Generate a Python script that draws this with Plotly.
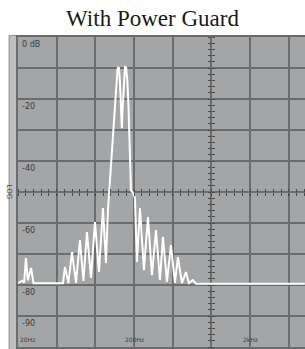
import numpy as np
import plotly.graph_objects as go

# Spectrum trace (frequency in Hz, level in dB)
freq_hz = [20, 21.7, 22.6, 23.4, 24.3, 25.9, 27.2, 48.8, 50.8, 54.4, 58.4, 63.2,
           68.4, 73.3, 78.6, 85.1, 92.1, 99.7, 107.9, 114.6, 119.2, 124.0, 131.6,
           139.7, 143.9, 146.0, 148.3, 151.0, 154.3, 157.0, 159.0, 163.7, 167.0,
           171.0, 175.0, 179.0, 182.6, 186.0, 188.1, 195.7, 203.6, 211.8, 224.8,
           243.4, 263.6, 285.4, 308.9, 334.4, 354.9, 384.2, 415.9, 450.3, 477.9,
           517.3, 559.9, 594.4, 643.4, 682.9, 5930]
level_db = [-79.4, -78.6, -79.2, -71.3, -78.5, -74.5, -79.4, -79.4, -74.2, -79.4,
            -69.4, -79.3, -65.5, -78.7, -62.9, -77.7, -59.7, -75.8, -55.2, -72.9,
            -55.8, -46.1, -33.2, -20.3, -10.6, -9.7, -10.0, -14.0, -24.0, -29.4,
            -24.0, -14.0, -9.7, -9.9, -14.0, -22.0, -35.0, -46.0, -49.4, -50.3,
            -51.9, -72.6, -55.2, -75.2, -58.1, -76.8, -62.3, -78.4, -64.5, -79.0,
            -67.1, -79.3, -71.0, -79.4, -75.8, -79.4, -78.4, -79.6, -79.6]

# Screen labels
level_labels = ["0 dB", "-20", "-40", "-60", "-80", "-90"]
level_label_db = [0, -20, -40, -60, -80, -90]
freq_labels = ["20Hz", "200Hz", "2kHz"]
freq_label_hz = [20, 200, 2000]

# Screen geometry: 3 divisions per decade, 10 dB per division
F0 = 20.0
DIV_PER_DEC = 3.0
N_DIV_SHOWN = 7.42
x_range = [np.log10(F0), np.log10(F0) + N_DIV_SHOWN / DIV_PER_DEC]
grid_x = [F0 * 10 ** (k / DIV_PER_DEC) for k in range(0, 8)]
minor_x = [F0 * 10 ** (k / (DIV_PER_DEC * 5)) for k in range(0, 38)]
minor_y = list(range(-100, 1, 2))

GRID = "#6a6c6e"
BG = "#a3a5a7"
TXT = "#3c3c3c"

fig = go.Figure()
fig.add_trace(go.Scatter(x=freq_hz, y=level_db, mode="lines",
                         line=dict(color="white", width=2),
                         hoverinfo="skip", showlegend=False))
# carrier traces for the centre-line tick axes
for xa, ya in [("x2", "y"), ("x3", "y"), ("x", "y2"), ("x", "y3")]:
    fig.add_trace(go.Scatter(x=[F0], y=[None], xaxis=xa, yaxis=ya,
                             hoverinfo="skip", showlegend=False))

center_pos = 5 / N_DIV_SHOWN
tick_common = dict(ticks="outside", ticklen=3, tickwidth=1.2, tickcolor="#4a4a4a",
                   showticklabels=False, showgrid=False, zeroline=False, showline=False)

fig.update_layout(
    width=305, height=349,
    margin=dict(l=18, r=0, t=37, b=2, autoexpand=False),
    paper_bgcolor="white", plot_bgcolor=BG,
    title=dict(text="With Power Guard", x=0.5, xanchor="center", y=0.948,
               yanchor="middle",
               font=dict(family="Liberation Serif", size=23, color="#1a1a1a")),
    xaxis=dict(type="log", range=x_range, tickvals=grid_x, showticklabels=False,
               ticks="", showgrid=True, gridcolor=GRID, gridwidth=1.5,
               showline=True, linecolor=GRID, linewidth=2, mirror=True,
               zeroline=False),
    yaxis=dict(range=[-100, 0], dtick=10, showticklabels=False, ticks="",
               showgrid=True, gridcolor=GRID, gridwidth=1.5,
               showline=True, linecolor=GRID, linewidth=2, mirror=False,
               zeroline=False),
    xaxis2=dict(type="log", range=x_range, overlaying="x", anchor="free",
                position=0.5, side="bottom", tickvals=minor_x, **tick_common),
    xaxis3=dict(type="log", range=x_range, overlaying="x", anchor="free",
                position=0.5, side="top", tickvals=minor_x, **tick_common),
    yaxis2=dict(range=[-100, 0], overlaying="y", anchor="free",
                position=center_pos, side="left", tickvals=minor_y, **tick_common),
    yaxis3=dict(range=[-100, 0], overlaying="y", anchor="free",
                position=center_pos, side="right", tickvals=minor_y, **tick_common),
    showlegend=False,
)

# screen bezel strip on the left
fig.add_shape(type="rect", xref="paper", yref="paper", x0=-0.031, x1=-0.004,
              y0=-0.01, y1=1.005, fillcolor="#bdbfc1",
              line=dict(color="#8c8e90", width=1), layer="below")

for txt, v in zip(level_labels, level_label_db):
    fig.add_annotation(x=0.006, xref="paper", y=v, yref="y", text=txt,
                       showarrow=False, xanchor="left", yanchor="top", yshift=-1,
                       font=dict(family="DejaVu Sans", size=8, color=TXT))
for i, (txt, f) in enumerate(zip(freq_labels, freq_label_hz)):
    fig.add_annotation(x=np.log10(f), xref="x", y=0, yref="paper", text=txt,
                       showarrow=False, xanchor="left" if i == 0 else "center",
                       yanchor="bottom", yshift=2,
                       font=dict(family="DejaVu Sans", size=6, color=TXT))
fig.add_annotation(x=-0.03, xref="paper", y=-50, yref="y", text="LOG",
                   showarrow=False, textangle=90, xanchor="center",
                   yanchor="middle",
                   font=dict(family="DejaVu Sans", size=7, color=TXT))

fig.write_html("out.html",
               config={"displayModeBar": False},
               post_script="document.body.style.margin='0';"
                           "document.body.style.overflow='hidden';")
